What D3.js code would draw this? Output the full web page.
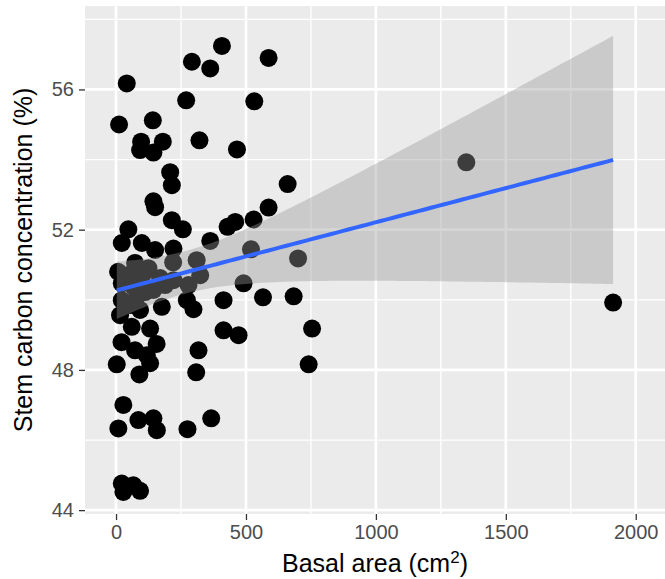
<!DOCTYPE html>
<html>
<head>
<meta charset="utf-8">
<script src="https://cdn.jsdelivr.net/npm/d3@7"></script>
<style>
  body { margin: 0; background: #fff; }
  svg { display: block; font-family: "Liberation Sans", Arial, sans-serif; }
</style>
</head>
<body>
<div id="chart"></div>
<script>
// basal area (cm2) and stem carbon (%)
// (last few are estimates for points hidden in the overlapping cluster)
const basalArea = [
  407.5, 291.8, 362.4, 587.1, 41.2, 269.9, 532, 11.6, 141.5, 96.4,
  92.5, 143.8, 180, 321.1, 465.3, 208.2, 214.7, 143.8, 150.3, 214.7,
  257.1, 47.4, 22, 99.1, 150.3, 220.9, 362.4, 429.1, 458.7, 529.3,
  587.1, 660.4, 1348, 1913, 519.3, 310.3, 700.5, 219.7, 73.2, 124.5,
  105.2, 22, 220.9, 143.8, 278.7, 323.8, 22, 79.8, 176.2, 272.6,
  298, 15.4, 92.5, 60.5, 131.1, 21.2, 156.1, 73.2, 317.3, 490.7,
  413.6, 565.5, 683.5, 413.6, 471.5, 118.4, 2.7, 89.8, 308.4, 28.1,
  8.9, 86, 143.8, 156.9, 274.9, 366.2, 22, 66.7, 28.1, 92.5,
  754.4, 741.3, 131.1, 65.5, 46.3, 169.6, 111.8, 54, 188.9, 7.7
];
const stemCarbon = [
  57.24, 56.79, 56.60, 56.90, 56.17, 55.69, 55.66, 55.00, 55.12, 54.51,
  54.27, 54.20, 54.51, 54.55, 54.29, 53.64, 53.27, 52.81, 52.64, 52.27,
  52.01, 52.01, 51.62, 51.62, 51.42, 51.46, 51.68, 52.08, 52.22, 52.29,
  52.63, 53.30, 53.92, 49.92, 51.44, 51.13, 51.18, 51.07, 51.05, 50.90,
  50.75, 50.47, 50.56, 50.28, 50.42, 50.70, 49.99, 50.08, 49.80, 49.99,
  49.73, 49.56, 49.71, 49.23, 49.18, 48.79, 48.74, 48.56, 48.56, 50.47,
  49.99, 50.07, 50.10, 49.13, 48.99, 48.42, 48.16, 47.87, 47.93, 47.00,
  46.33, 46.57, 46.62, 46.28, 46.31, 46.62, 44.76, 44.71, 44.52, 44.55,
  49.18, 48.16, 48.19, 50.39, 50.71, 50.62, 50.22, 49.85, 50.42, 50.80
];

const xMajor = [0, 500, 1000, 1500, 2000];
const xMinor = [250, 750, 1250, 1750];
const yMajor = [44, 48, 52, 56];
const yMinor = [46, 50, 54, 58];

const data = basalArea.map((x, i) => ({ x, y: stemCarbon[i] }));

const W = 665, H = 579;
const margin = { top: 6, right: 0, bottom: 65, left: 85 };
const width = W - margin.left - margin.right;
const height = H - margin.top - margin.bottom;

const svg = d3.select("#chart").append("svg")
  .attr("width", W).attr("height", H);

const x = d3.scaleLinear().domain([-119.5, 2112.6]).range([0, width]);
const y = d3.scaleLinear().domain([43.89, 58.38]).range([height, 0]);

const g = svg.append("g")
  .attr("transform", `translate(${margin.left},${margin.top})`);

// panel + grid
g.append("rect").attr("width", width).attr("height", height).attr("fill", "#EBEBEB");

g.selectAll(".xminor").data(xMinor).enter().append("line")
  .attr("x1", d => x(d)).attr("x2", d => x(d))
  .attr("y1", 0).attr("y2", height)
  .attr("stroke", "#fff").attr("stroke-width", 1.3);
g.selectAll(".yminor").data(yMinor).enter().append("line")
  .attr("y1", d => y(d)).attr("y2", d => y(d))
  .attr("x1", 0).attr("x2", width)
  .attr("stroke", "#fff").attr("stroke-width", 1.3);
g.selectAll(".xmajor").data(xMajor).enter().append("line")
  .attr("x1", d => x(d)).attr("x2", d => x(d))
  .attr("y1", 0).attr("y2", height)
  .attr("stroke", "#fff").attr("stroke-width", 2.7);
g.selectAll(".ymajor").data(yMajor).enter().append("line")
  .attr("y1", d => y(d)).attr("y2", d => y(d))
  .attr("x1", 0).attr("x2", width)
  .attr("stroke", "#fff").attr("stroke-width", 2.7);

// points
g.selectAll("circle").data(data).enter().append("circle")
  .attr("cx", d => x(d.x)).attr("cy", d => y(d.y))
  .attr("r", 9).attr("fill", "#000");

// linear fit with 95% band (like geom_smooth(method = "lm"))
const n = data.length;
const mx = d3.mean(data, d => d.x), my = d3.mean(data, d => d.y);
const sxx = d3.sum(data, d => (d.x - mx) ** 2);
const sxy = d3.sum(data, d => (d.x - mx) * (d.y - my));
const slope = sxy / sxx, icpt = my - slope * mx;
const s = Math.sqrt(d3.sum(data, d => (d.y - icpt - slope * d.x) ** 2) / (n - 2));
const df = n - 2, z = 1.959964;
const tq = z + (z ** 3 + z) / (4 * df) + (5 * z ** 5 + 16 * z ** 3 + 3 * z) / (96 * df * df);

const [x0, x1] = d3.extent(data, d => d.x);
const fit = d3.range(80).map(i => {
  const xv = x0 + (x1 - x0) * i / 79;
  const yv = icpt + slope * xv;
  const se = s * Math.sqrt(1 / n + (xv - mx) ** 2 / sxx);
  return { x: xv, y: yv, lo: yv - tq * se, hi: yv + tq * se };
});

g.append("path").datum(fit)
  .attr("d", d3.area().x(d => x(d.x)).y0(d => y(d.lo)).y1(d => y(d.hi)))
  .attr("fill", "#999999").attr("fill-opacity", 0.4);

g.append("path").datum(fit)
  .attr("d", d3.line().x(d => x(d.x)).y(d => y(d.y)))
  .attr("fill", "none").attr("stroke", "#3366FF").attr("stroke-width", 4);

// axes
const xAxis = g.append("g").attr("transform", `translate(0,${height})`)
  .call(d3.axisBottom(x).tickValues(xMajor).tickFormat(d3.format("d"))
    .tickSize(6).tickPadding(5));
const yAxis = g.append("g")
  .call(d3.axisLeft(y).tickValues(yMajor).tickFormat(d3.format("d"))
    .tickSize(6).tickPadding(5));

[xAxis, yAxis].forEach(a => {
  a.select(".domain").remove();
  a.selectAll(".tick line").attr("stroke", "#333333").attr("stroke-width", 1.3);
  a.selectAll(".tick text").attr("fill", "#4D4D4D")
    .style("font-size", "20px").style("font-family", "Liberation Sans, Arial, sans-serif");
});

// titles
const xt = svg.append("text")
  .attr("x", margin.left + width / 2).attr("y", 572)
  .attr("text-anchor", "middle").attr("fill", "#000")
  .style("font-size", "25px");
xt.append("tspan").text("Basal area (cm");
xt.append("tspan").text("2").attr("dy", -9).style("font-size", "17px");
xt.append("tspan").text(")").attr("dy", 9);

svg.append("text")
  .attr("transform", `translate(32,${margin.top + height / 2}) rotate(-90)`)
  .attr("text-anchor", "middle").attr("fill", "#000")
  .style("font-size", "25px")
  .text("Stem carbon concentration (%)");
</script>
</body>
</html>
